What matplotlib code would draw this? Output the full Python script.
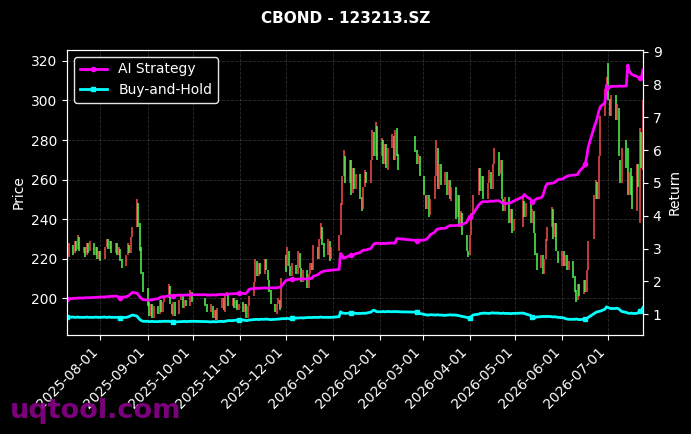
import numpy as np
import pandas as pd
import matplotlib
matplotlib.use("Agg")
import matplotlib.pyplot as plt
import matplotlib.dates as mdates

title = "CBOND - 123213.SZ"

# trading calendar (SSE holidays removed)
holidays = pd.to_datetime([
    "2025-10-01", "2025-10-02", "2025-10-03", "2025-10-06", "2025-10-07", "2025-10-08",
    "2026-01-01", "2026-01-02",
    "2026-02-16", "2026-02-17", "2026-02-18", "2026-02-19", "2026-02-20", "2026-02-23",
    "2026-04-06", "2026-05-01", "2026-05-04", "2026-05-05", "2026-06-19",
])
days = pd.bdate_range("2025-07-10", "2026-07-24")
days = days[~days.isin(holidays)]

# daily open / close prices, one row per month
opens = [
    230, 221, 227, 223, 229, 225, 231, 223, 226, 222, 228, 224, 228, 222, 226, 220,
    224, 220, 226, 230, 225, 229, 223, 228, 222, 225, 220, 216, 222, 227, 223, 231, 236, 248, 238, 226, 213,
    205, 198, 191, 197, 190, 196, 192, 199, 193, 198, 200, 206, 197, 191, 198, 192, 199, 201, 195, 199, 196, 203,
    200, 197, 193, 196, 190, 194, 189, 195, 200, 193, 201, 202, 196, 200, 195, 199, 194,
    198, 193, 197, 190, 196, 201, 208, 219, 211, 218, 212, 220, 214, 209, 204, 197, 192, 197, 199, 195,
    222, 216, 224, 216, 211, 217, 212, 223, 215, 208, 214, 205, 212, 218, 214, 226, 220, 230, 236, 228, 222, 229, 220,
    224, 232, 247, 262, 272, 258, 270, 253, 266, 255, 263, 251, 245, 256, 264, 258, 270, 284, 272, 287,
    272, 280, 268, 278, 265, 276, 282, 270, 286, 273, 282, 275, 268, 272,
    262, 252, 245, 252, 242, 250, 262, 276, 255, 268, 257, 264, 252, 260, 249, 256, 241, 252, 236, 243, 232, 224,
    222, 232, 243, 252, 266, 254, 262, 250, 258, 264, 255, 268, 274, 263, 270, 250, 244, 251, 238, 245, 234,
    236, 249, 241, 248, 238, 244, 233, 223, 215, 222, 212, 220, 229, 236, 245, 231, 238, 224,
    216, 224, 216, 222, 214, 219, 211, 204, 199, 207, 202, 209, 203, 214, 230, 250, 259, 250, 272, 292, 306,
    319, 301, 292, 303, 290, 296, 270, 258, 280, 276, 252, 266, 262, 244, 268, 238, 284, 265,
]
closes = [
    223, 228, 222, 229, 224, 232, 224, 226, 221, 228, 223, 229, 222, 226, 220, 224,
    219, 226, 230, 225, 229, 223, 228, 222, 226, 219, 215, 222, 228, 223, 231, 236, 250, 236, 224, 212, 203,
    196, 191, 197, 190, 196, 192, 199, 193, 198, 200, 207, 197, 192, 198, 191, 199, 201, 195, 199, 196, 204, 198,
    196, 193, 197, 190, 194, 189, 195, 200, 194, 201, 203, 196, 200, 195, 199, 194, 197,
    193, 197, 190, 196, 201, 208, 220, 211, 218, 212, 220, 214, 209, 203, 197, 193, 197, 200, 194, 210,
    213, 226, 216, 211, 218, 212, 224, 215, 208, 214, 205, 212, 218, 214, 227, 220, 230, 238, 227, 221, 230, 219, 226,
    232, 248, 262, 275, 258, 270, 252, 266, 255, 263, 250, 244, 256, 265, 258, 270, 285, 272, 289, 270,
    281, 268, 278, 266, 276, 283, 270, 285, 272, 265, 274, 268, 273, 262,
    252, 245, 252, 241, 250, 262, 280, 255, 268, 257, 264, 252, 260, 250, 256, 240, 252, 236, 244, 232, 224, 221,
    232, 243, 252, 266, 254, 262, 250, 258, 265, 255, 268, 276, 262, 270, 250, 244, 251, 238, 245, 233, 240,
    251, 241, 248, 238, 245, 233, 222, 214, 222, 212, 220, 230, 236, 246, 230, 238, 224, 218,
    224, 216, 222, 214, 219, 210, 203, 198, 207, 201, 209, 203, 214, 229, 252, 260, 250, 272, 292, 306, 312,
    300, 292, 303, 290, 298, 272, 258, 276, 266, 252, 264, 252, 245, 268, 256, 286, 266, 300,
]

# cumulative return of the two strategies
ai_strategy = [
    1.47, 1.47, 1.48, 1.48, 1.48, 1.49, 1.49, 1.49, 1.50, 1.50, 1.50, 1.50, 1.51, 1.51, 1.51, 1.52,
    1.52, 1.52, 1.53, 1.53, 1.54, 1.54, 1.55, 1.54, 1.52, 1.49, 1.51, 1.53, 1.55, 1.58, 1.62, 1.66, 1.64, 1.58, 1.52, 1.47, 1.44,
    1.43, 1.42, 1.44, 1.43, 1.45, 1.47, 1.50, 1.52, 1.53, 1.53, 1.55, 1.56, 1.57, 1.56, 1.57, 1.58, 1.58, 1.57, 1.58, 1.58, 1.59, 1.59,
    1.59, 1.58, 1.58, 1.59, 1.58, 1.58, 1.59, 1.60, 1.59, 1.60, 1.60, 1.61, 1.62, 1.62, 1.63, 1.63, 1.63,
    1.63, 1.62, 1.64, 1.70, 1.76, 1.78, 1.78, 1.79, 1.78, 1.79, 1.80, 1.80, 1.79, 1.80, 1.80, 1.80, 1.80, 1.81, 1.82, 1.85,
    2.02, 2.04, 2.05, 2.05, 2.06, 2.06, 2.07, 2.07, 2.07, 2.07, 2.07, 2.08, 2.08, 2.09, 2.15, 2.20, 2.24, 2.27, 2.29, 2.31, 2.33, 2.34, 2.34,
    2.36, 2.85, 2.80, 2.70, 2.72, 2.78, 2.80, 2.80, 2.82, 2.84, 2.88, 2.92, 2.95, 2.95, 2.96, 3.00, 3.08, 3.14, 3.16, 3.16,
    3.15, 3.16, 3.15, 3.16, 3.16, 3.17, 3.16, 3.17, 3.30, 3.30, 3.25, 3.24, 3.26, 3.25,
    3.26, 3.27, 3.30, 3.35, 3.42, 3.50, 3.57, 3.60, 3.60, 3.61, 3.62, 3.65, 3.68, 3.70, 3.70, 3.70, 3.71, 3.72, 3.72, 3.73, 3.80, 3.90,
    3.97, 4.00, 4.05, 4.33, 4.38, 4.42, 4.43, 4.43, 4.44, 4.45, 4.44, 4.45, 4.46, 4.44, 4.40, 4.38, 4.37, 4.38, 4.40, 4.42, 4.45,
    4.58, 4.65, 4.60, 4.50, 4.43, 4.45, 4.48, 4.52, 4.55, 4.60, 4.75, 4.90, 4.98, 4.99, 5.00, 5.02, 5.06, 5.10,
    5.12, 5.15, 5.18, 5.20, 5.22, 5.24, 5.24, 5.25, 5.26, 5.35, 5.50, 5.58, 5.80, 6.10, 6.72, 6.85, 7.00, 7.20, 7.33, 7.45, 7.99,
    7.85, 7.92, 7.95, 7.95, 7.95, 7.95, 7.96, 7.95, 7.96, 8.60, 8.40, 8.35, 8.30, 8.25, 8.22, 8.20, 8.22, 8.45,
]
buy_and_hold = [
    0.90, 0.90, 0.91, 0.90, 0.90, 0.91, 0.90, 0.90, 0.90, 0.91, 0.90, 0.90, 0.90, 0.91, 0.90, 0.90,
    0.90, 0.91, 0.90, 0.90, 0.91, 0.90, 0.90, 0.90, 0.89, 0.88, 0.89, 0.90, 0.91, 0.93, 0.95, 0.97, 0.94, 0.88, 0.83, 0.80, 0.78,
    0.78, 0.77, 0.77, 0.78, 0.77, 0.77, 0.78, 0.77, 0.78, 0.78, 0.78, 0.77, 0.77, 0.76, 0.76, 0.77, 0.77, 0.77, 0.78, 0.77, 0.78, 0.78,
    0.77, 0.77, 0.76, 0.77, 0.77, 0.76, 0.77, 0.78, 0.77, 0.78, 0.79, 0.80, 0.80, 0.81, 0.81, 0.82, 0.82,
    0.82, 0.81, 0.80, 0.81, 0.82, 0.83, 0.83, 0.84, 0.83, 0.84, 0.84, 0.85, 0.84, 0.84, 0.83, 0.84, 0.84, 0.85, 0.85, 0.86,
    0.86, 0.87, 0.86, 0.86, 0.87, 0.88, 0.88, 0.88, 0.89, 0.88, 0.89, 0.89, 0.90, 0.89, 0.90, 0.90, 0.90, 0.91, 0.90, 0.90, 0.90, 0.90, 0.90,
    0.92, 1.07, 1.03, 1.03, 1.02, 1.03, 1.02, 1.02, 1.03, 1.02, 1.02, 1.02, 1.03, 1.02, 1.03, 1.06, 1.10, 1.12, 1.09, 1.07,
    1.07, 1.08, 1.07, 1.07, 1.08, 1.07, 1.08, 1.07, 1.08, 1.07, 1.06, 1.05, 1.04, 1.02,
    0.99, 0.98, 0.97, 0.97, 0.98, 0.97, 0.97, 0.98, 0.97, 0.97, 0.96, 0.97, 0.97, 0.98, 0.97, 0.97, 0.96, 0.95, 0.94, 0.93, 0.90, 0.88,
    0.87, 0.92, 0.97, 1.00, 1.02, 1.02, 1.03, 1.02, 1.02, 1.03, 1.04, 1.03, 1.03, 1.02, 1.02, 1.03, 1.02, 1.02, 1.01, 1.02, 1.02,
    1.03, 1.02, 1.00, 0.96, 0.90, 0.87, 0.89, 0.91, 0.92, 0.92, 0.93, 0.92, 0.93, 0.92, 0.91, 0.92, 0.91, 0.90,
    0.89, 0.88, 0.86, 0.85, 0.84, 0.84, 0.84, 0.85, 0.84, 0.83, 0.84, 0.85, 0.86, 0.90, 1.02, 1.05, 1.07, 1.08, 1.09, 1.15, 1.22,
    1.20, 1.18, 1.17, 1.17, 1.18, 1.16, 1.12, 1.08, 1.05, 1.03, 1.02, 1.03, 1.02, 1.02, 1.05, 1.10, 1.12, 1.20,
]

df = pd.DataFrame({"open": opens, "close": closes,
                   "ai": ai_strategy, "bh": buy_and_hold}, index=days)

plt.style.use("dark_background")
fig, ax = plt.subplots(figsize=(6.91, 4.34), dpi=100)
fig.patch.set_facecolor("black")
ax.set_facecolor("black")
fig.subplots_adjust(left=0.097, right=0.9305, top=0.885, bottom=0.228)

# candles: red = up, green = down
up = df["close"] >= df["open"]
bar_colors = np.where(up, "#ff4d4d", "#55ff55")
ax.vlines(df.index, df[["open", "close"]].min(axis=1), df[["open", "close"]].max(axis=1),
          colors=bar_colors, linewidth=1.2, alpha=0.9)
ax.set_ylabel("Price", fontsize=10)
ax.set_ylim(181.3, 325.6)
ax.grid(True, linestyle="--", color="gray", alpha=0.35, linewidth=0.6)

ax2 = ax.twinx()
ax2.plot(df.index, df["ai"], color="#ff00ff", linewidth=2, marker="o",
         markersize=3, markevery=25, label="AI Strategy")
ax2.plot(df.index, df["bh"], color="#00ffff", linewidth=2, marker="s",
         markersize=3, markevery=25, label="Buy-and-Hold")
ax2.set_ylabel("Return", fontsize=10)
ax2.set_ylim(0.36, 9.06)
ax2.legend(loc="upper left", fontsize=10, facecolor="black", edgecolor="white", framealpha=0.9)

ax.set_xlim(df.index[0], df.index[-1])
ax.xaxis.set_major_locator(mdates.MonthLocator())
ax.xaxis.set_major_formatter(mdates.DateFormatter("%Y-%m-%d"))
plt.setp(ax.get_xticklabels(), rotation=45, ha="right")
ax.tick_params(labelsize=10)
ax2.tick_params(labelsize=10)

fig.suptitle(title, fontsize=11, fontweight="bold", color="white", y=0.975)
fig.text(0.014, 0.038, "uqtool.com", fontsize=19.5, fontweight="bold",
         color="#8b008b", alpha=0.9, zorder=0)

fig.savefig("out.png", dpi=100, facecolor="black")
